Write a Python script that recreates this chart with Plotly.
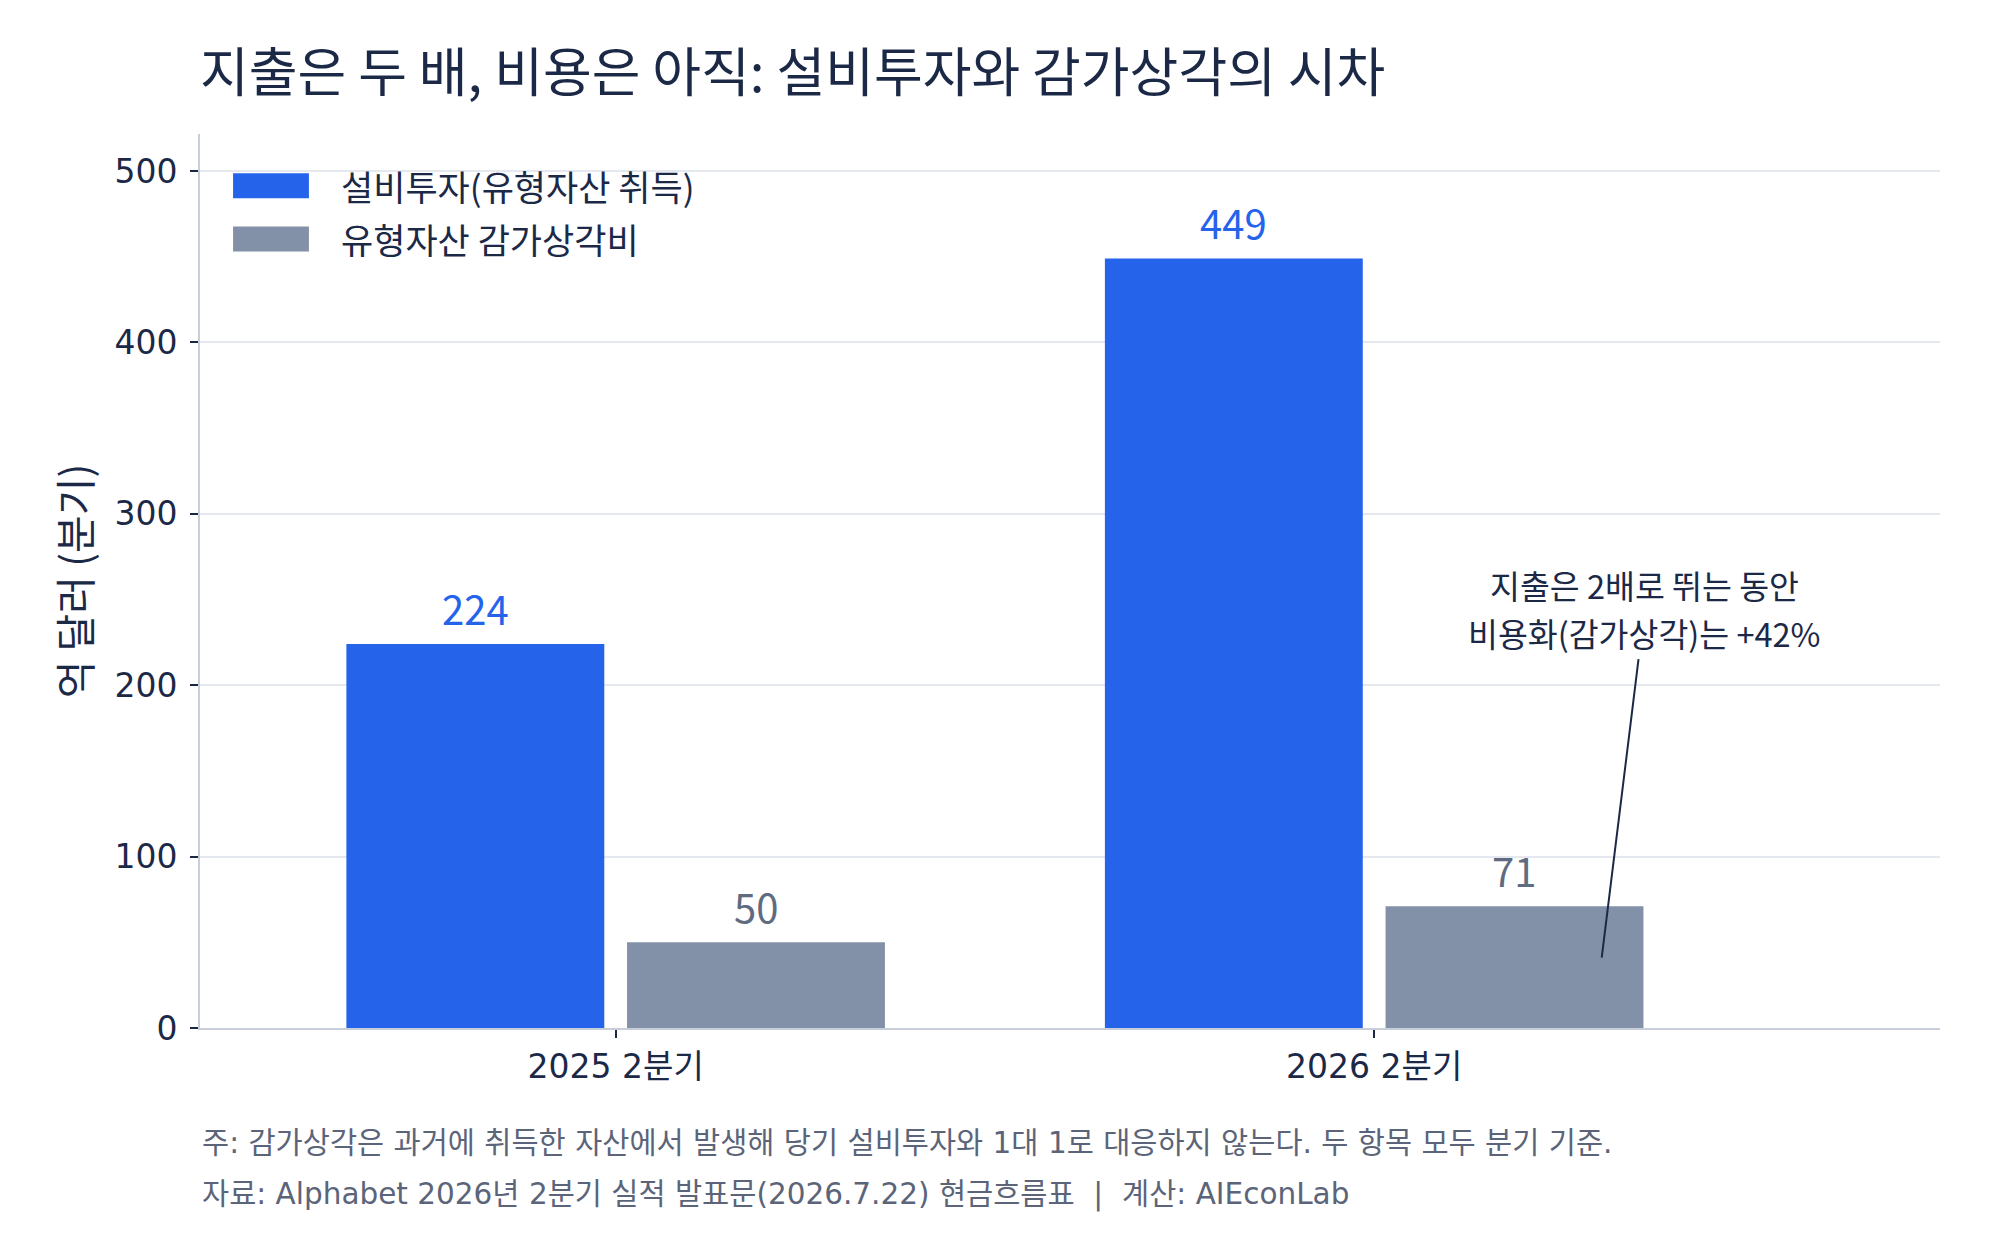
import plotly.graph_objects as go

# ---- data ----
categories = ["2025 2분기", "2026 2분기"]
series_names = ["설비투자(유형자산 취득)", "유형자산 감가상각비"]
capex = [224, 449]
depreciation = [50, 71]
y_ticks = [0, 100, 200, 300, 400, 500]

title_text = "지출은 두 배, 비용은 아직: 설비투자와 감가상각의 시차"
y_title = "억 달러 (분기)"
note_lines = ["지출은 2배로 뛰는 동안", "비용화(감가상각)는 +42%"]
footer_lines = [
    "주: 감가상각은 과거에 취득한 자산에서 발생해 당기 설비투자와 1대 1로 대응하지 않는다. 두 항목 모두 분기 기준.",
    "자료: Alphabet 2026년 2분기 실적 발표문(2026.7.22) 현금흐름표  |  계산: AIEconLab",
]

# ---- style ----
BLUE = "#2563EB"
GRAY = "#8291A7"
GRAY_TXT = "#5E6B80"
NAVY = "#1B2947"
FOOT = "#5B6478"
GRID = "#E5E8EE"
AXIS = "#C9CFDA"
KR = "Noto Sans CJK KR"
LAT = "DejaVu Sans, Noto Sans CJK KR"

BAR_W = 0.34
OFFS = [-0.355, 0.015]

fig = go.Figure()
for vals, name, col, off in [(capex, series_names[0], BLUE, OFFS[0]),
                             (depreciation, series_names[1], GRAY, OFFS[1])]:
    fig.add_trace(go.Bar(x=categories, y=vals, name=name, marker_color=col,
                         marker_line_width=0, width=BAR_W, offset=off,
                         showlegend=False))

# value labels
for vals, col, off in [(capex, BLUE, OFFS[0]), (depreciation, GRAY_TXT, OFFS[1])]:
    for i, v in enumerate(vals):
        fig.add_annotation(x=i + off + BAR_W / 2, y=v, xref="x", yref="y",
                           text=str(v), showarrow=False, yanchor="bottom",
                           yshift=5, font=dict(family=KR, size=40, color=col))

# custom legend
leg_rows = [0.942, 0.8826]
for name, col, yy in zip(series_names, [BLUE, GRAY], leg_rows):
    fig.add_shape(type="rect", xref="paper", yref="paper",
                  x0=0.019, x1=0.0626, y0=yy - 0.014, y1=yy + 0.014,
                  fillcolor=col, line_width=0)
    fig.add_annotation(xref="paper", yref="paper", x=0.0799, y=yy,
                       xanchor="left", yanchor="middle", showarrow=False,
                       text=name, font=dict(family=KR, size=35, color=NAVY))

# callout: leader line + two text lines
fig.add_annotation(x=1.3, y=41, xref="x", yref="y", text="",
                   showarrow=True, arrowhead=0, arrowwidth=2, arrowcolor=NAVY,
                   ax=37, ay=-300)
for txt, dy in zip(note_lines, [-373, -325]):
    fig.add_annotation(x=1.3, y=41, xref="x", yref="y", text=txt,
                       showarrow=False, xshift=43, yshift=-dy, borderpad=0,
                       xanchor="center", yanchor="middle",
                       font=dict(family=KR, size=32.5, color=NAVY))

# footer
for txt, yy in zip(footer_lines, [-0.1286, -0.1857]):
    fig.add_annotation(xref="paper", yref="paper", x=0, y=yy, xanchor="left",
                       yanchor="middle", showarrow=False, text=txt,
                       font=dict(family=LAT, size=29.5, color=FOOT))

fig.update_layout(
    width=2000, height=1240,
    margin=dict(l=200, r=60, t=134, b=212),
    paper_bgcolor="white", plot_bgcolor="white",
    barmode="overlay",
    font=dict(family=LAT, color=NAVY),
    title=dict(text=title_text, x=200 / 2000, xref="container", xanchor="left",
               y=1 - 73 / 1240, yref="container", yanchor="middle",
               font=dict(family=KR, size=53, color=NAVY)),
)

fig.update_xaxes(range=[-0.548, 1.746], showline=True, linecolor=AXIS,
                 linewidth=2, ticks="outside", ticklen=8, tickwidth=1.5,
                 tickcolor=NAVY, showgrid=False,
                 tickfont=dict(family=LAT, size=33, color=NAVY))
fig.update_yaxes(range=[0, 521.6], tickvals=y_ticks, showline=True,
                 linecolor=AXIS, linewidth=2, ticks="outside", ticklen=8,
                 tickwidth=1.5, tickcolor=NAVY, showgrid=True, gridcolor=GRID,
                 gridwidth=1.5, zeroline=False, ticklabelstandoff=6,
                 tickfont=dict(family=LAT, size=33, color=NAVY),
                 title=dict(text=y_title, standoff=10,
                            font=dict(family=KR, size=41, color=NAVY)))

fig.write_html("out.html")
